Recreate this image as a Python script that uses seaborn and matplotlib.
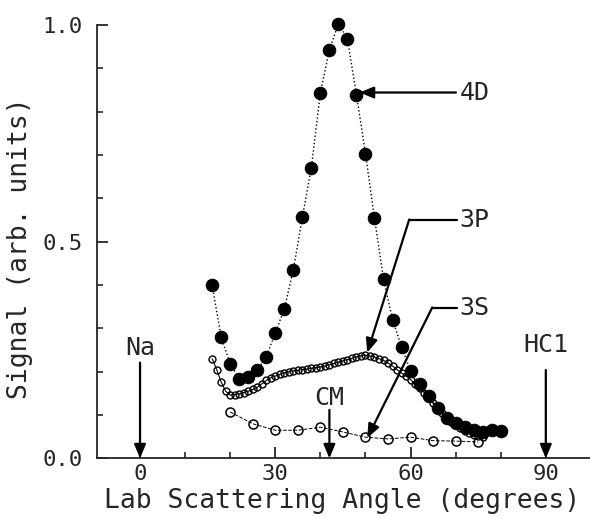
import matplotlib
matplotlib.use("Agg")
import matplotlib.pyplot as plt
import seaborn as sns

# 4D signal, filled circles every 2 degrees
angle_4d = [16, 18, 20, 22, 24, 26, 28, 30, 32, 34, 36, 38, 40, 42, 44, 46, 48,
            50, 52, 54, 56, 58, 60, 62, 64, 66, 68, 70, 72, 74, 76, 78, 80]
signal_4d = [0.399, 0.279, 0.218, 0.184, 0.187, 0.204, 0.235, 0.289, 0.345, 0.435,
             0.556, 0.671, 0.844, 0.942, 1.003, 0.967, 0.839, 0.703, 0.554, 0.414,
             0.320, 0.258, 0.201, 0.172, 0.143, 0.116, 0.093, 0.082, 0.072, 0.066,
             0.061, 0.065, 0.064]

# 3P signal, small open markers every degree
angle_3p = list(range(16, 77))
signal_3p = [0.230, 0.205, 0.176, 0.155, 0.146, 0.147, 0.149, 0.152, 0.155, 0.159,
             0.164, 0.172, 0.180, 0.186, 0.190, 0.194, 0.197, 0.200, 0.202, 0.203,
             0.205, 0.206, 0.208, 0.209, 0.211, 0.213, 0.216, 0.219, 0.222, 0.225,
             0.228, 0.231, 0.234, 0.237, 0.238, 0.236, 0.234, 0.230, 0.226, 0.220,
             0.213, 0.205, 0.197, 0.190, 0.182, 0.172, 0.163, 0.152, 0.140, 0.127,
             0.115, 0.104, 0.094, 0.085, 0.077, 0.070, 0.064, 0.059, 0.055, 0.052,
             0.050]

# 3S signal, open circles every 5 degrees
angle_3s = [20, 25, 30, 35, 40, 45, 50, 55, 60, 65, 70, 75]
signal_3s = [0.107, 0.080, 0.065, 0.065, 0.072, 0.061, 0.049, 0.045, 0.049, 0.041,
             0.040, 0.038]

x_ticks = [0, 30, 60, 90]
y_ticks = [0.0, 0.5, 1.0]
y_tick_labels = ["0.0", "0.5", "1.0"]

sns.set_style("ticks")
plt.rcParams['font.family'] = ['DejaVu Sans Mono']

fig = plt.figure(figsize=(5.9, 5.18), dpi=100)
ax = fig.add_axes([0.164, 0.115, 0.836, 0.837])

sns.lineplot(x=angle_3s, y=signal_3s, ax=ax, color='black', linewidth=0.7, linestyle='--',
             marker='o', markersize=6.5, markerfacecolor='none', markeredgecolor='black',
             markeredgewidth=1.1, clip_on=False)
sns.lineplot(x=angle_3p, y=signal_3p, ax=ax, color='black', linewidth=0.8,
             marker='o', markersize=5, markerfacecolor='none', markeredgecolor='black',
             markeredgewidth=1.0, clip_on=False)
sns.lineplot(x=angle_4d, y=signal_4d, ax=ax, color='black', linewidth=1.0, linestyle=':',
             marker='o', markersize=9, markerfacecolor='black', markeredgecolor='black',
             clip_on=False)

ax.set_xlim(-9.6, 99.8)
ax.set_ylim(0, 1.0)
sns.despine(ax=ax)
for s in ['left', 'bottom']:
    ax.spines[s].set_linewidth(1.3)

ax.set_xticks(x_ticks)
ax.set_xticks(range(0, 100, 10), minor=True)
ax.set_yticks(y_ticks)
ax.set_yticklabels(y_tick_labels)
ax.set_yticks([i / 10 for i in range(11)], minor=True)
ax.tick_params(which='major', direction='in', length=8, width=1.3, labelsize=16)
ax.tick_params(which='minor', direction='in', length=4, width=1.2)
ax.tick_params(axis='x', pad=4)
ax.tick_params(axis='y', pad=10)

ax.set_xlabel("Lab Scattering Angle (degrees)", fontsize=19)
ax.set_ylabel("Signal (arb. units)", fontsize=19)
ax.xaxis.set_label_coords(0.497, -0.068)
ax.yaxis.set_label_coords(-0.13, 0.486)

arrow = dict(arrowstyle='-|>,head_length=0.6,head_width=0.25', color='black',
             lw=1.6, mutation_scale=14, shrinkA=0, shrinkB=0)

# 4D label
ax.annotate("4D", xy=(48.7, 0.844), xytext=(70.8, 0.844), fontsize=18,
            ha='left', va='center', arrowprops=arrow, annotation_clip=False)

# 3P label with bent leader
ax.plot([59.7, 70.3], [0.551, 0.551], color='black', lw=1.6, clip_on=False)
ax.annotate("", xy=(50.4, 0.244), xytext=(59.7, 0.551), arrowprops=arrow)
ax.text(70.8, 0.551, "3P", fontsize=18, ha='left', va='center')

# 3S label with bent leader
ax.plot([64.8, 70.3], [0.348, 0.348], color='black', lw=1.6, clip_on=False)
ax.annotate("", xy=(50.4, 0.047), xytext=(64.8, 0.348), arrowprops=arrow)
ax.text(70.8, 0.348, "3S", fontsize=18, ha='left', va='center')

# Na, CM and HCl markers on the axis
ax.annotate("", xy=(0, 0), xytext=(0, 0.221), arrowprops=arrow)
ax.text(0, 0.255, "Na", fontsize=18, ha='center', va='center')
ax.annotate("", xy=(42.0, 0), xytext=(42.0, 0.112), arrowprops=arrow)
ax.text(42.0, 0.139, "CM", fontsize=18, ha='center', va='center')
ax.annotate("", xy=(90, 0), xytext=(90, 0.204), arrowprops=arrow)
ax.text(90, 0.262, "HC1", fontsize=18, ha='center', va='center')

fig.savefig("out.png", dpi=100)
